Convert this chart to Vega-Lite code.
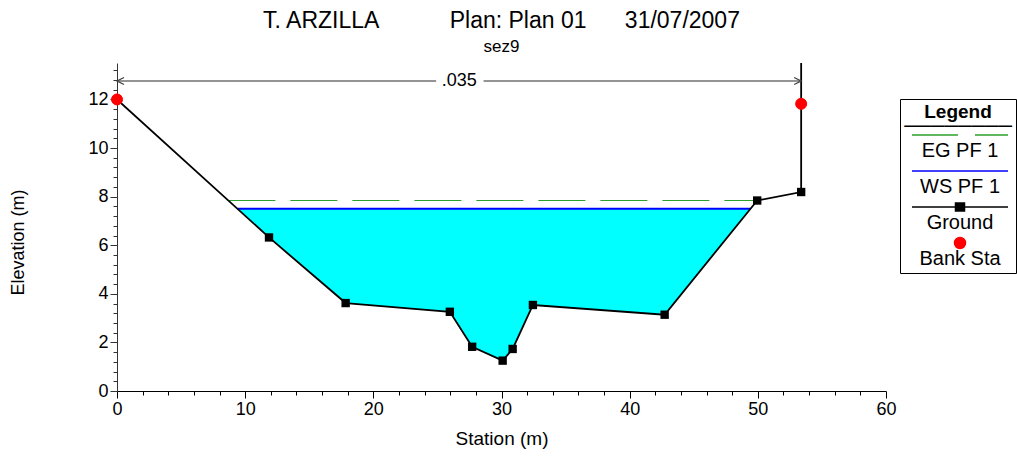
{
  "$schema": "https://vega.github.io/schema/vega-lite/v6.json",
  "width": 769,
  "height": 328,
  "autosize": {"type": "none"},
  "padding": {"left": 117, "top": 63, "right": 131, "bottom": 65},
  "background": "white",
  "config": {
    "view": {"stroke": null},
    "font": "Liberation Sans",
    "legend": {
      "orient": "none",
      "legendX": 783,
      "legendY": 36,
      "strokeColor": "#000000",
      "fillColor": "#ffffff",
      "padding": 4,
      "cornerRadius": 0,
      "titleFont": "Liberation Sans",
      "titleFontSize": 19,
      "titleFontWeight": "bold",
      "titleColor": "#000000",
      "titleAnchor": "middle",
      "titleAlign": "center",
      "titleLineHeight": 14,
      "titlePadding": -11,
      "labelFont": "Liberation Sans",
      "labelFontSize": 20,
      "labelColor": "#000000",
      "labelAlign": "center",
      "labelBaseline": "alphabetic",
      "labelOffset": -10,
      "labelLimit": 200,
      "symbolSize": 4,
      "symbolOffset": 46,
      "symbolStrokeWidth": 1.5,
      "rowPadding": -13
    }
  },
  "title": {
    "text": "T. ARZILLA\u00a0\u00a0\u00a0\u00a0\u00a0\u00a0\u00a0\u00a0\u00a0\u00a0\u00a0Plan: Plan 01\u00a0\u00a0\u00a0\u00a0\u00a0\u00a031/07/2007",
    "subtitle": "sez9",
    "anchor": "middle",
    "font": "Liberation Sans",
    "fontSize": 23,
    "fontWeight": "normal",
    "color": "#000000",
    "subtitleFont": "Liberation Sans",
    "subtitleFontSize": 17,
    "subtitleColor": "#000000",
    "subtitlePadding": 6,
    "offset": 6
  },
  "datasets": {
    "ground": [
      {"station": 0, "elev": 12.0},
      {"station": 11.86, "elev": 6.32},
      {"station": 17.84, "elev": 3.62},
      {"station": 25.97, "elev": 3.26},
      {"station": 27.71, "elev": 1.82},
      {"station": 30.09, "elev": 1.25},
      {"station": 30.87, "elev": 1.73},
      {"station": 32.45, "elev": 3.54},
      {"station": 42.73, "elev": 3.14},
      {"station": 49.95, "elev": 7.84},
      {"station": 53.38, "elev": 8.19},
      {"station": 53.38, "elev": 14.5}
    ],
    "water": [
      {"station": 9.4, "elev": 7.5, "ws": 7.5},
      {"station": 11.86, "elev": 6.32, "ws": 7.5},
      {"station": 17.84, "elev": 3.62, "ws": 7.5},
      {"station": 25.97, "elev": 3.26, "ws": 7.5},
      {"station": 27.71, "elev": 1.82, "ws": 7.5},
      {"station": 30.09, "elev": 1.25, "ws": 7.5},
      {"station": 30.87, "elev": 1.73, "ws": 7.5},
      {"station": 32.45, "elev": 3.54, "ws": 7.5},
      {"station": 42.73, "elev": 3.14, "ws": 7.5},
      {"station": 49.43, "elev": 7.5, "ws": 7.5}
    ],
    "ws": [
      {"station": 9.4, "elev": 7.5},
      {"station": 49.43, "elev": 7.5}
    ],
    "eg": [
      {"station": 8.69, "elev": 7.84},
      {"station": 49.95, "elev": 7.84}
    ],
    "nline": [
      {"station": 0, "station2": 24.9, "elev": 12.76},
      {"station": 28.6, "station2": 53.38, "elev": 12.76}
    ],
    "nvalue": [
      {"station": 26.7, "elev": 12.76, "n": ".035"}
    ],
    "bank": [
      {"station": 0, "elev": 12.0, "series": "Bank Sta"},
      {"station": 53.38, "elev": 11.82, "series": "Bank Sta"}
    ]
  },
  "encoding": {
    "x": {
      "field": "station",
      "type": "quantitative",
      "scale": {"domain": [0, 60], "nice": false, "zero": false},
      "axis": {
        "title": "Station (m)",
        "values": [0, 2, 4, 6, 8, 10, 12, 14, 16, 18, 20, 22, 24, 26, 28, 30, 32, 34, 36, 38, 40, 42, 44, 46, 48, 50, 52, 54, 56, 58, 60],
        "tickCount": 100,
        "labelExpr": "datum.value % 10 === 0 ? format(datum.value, 'd') : ''",
        "grid": false,
        "domainColor": "#000000",
        "tickColor": "#000000",
        "tickSize": {"condition": {"test": "datum.value % 10 === 0", "value": 7}, "value": 4},
        "labelFont": "Liberation Sans",
        "labelFontSize": 18,
        "labelColor": "#000000",
        "labelPadding": 2,
        "labelFlush": false,
        "labelOverlap": false,
        "titleFont": "Liberation Sans",
        "titleFontSize": 19,
        "titleFontWeight": "normal",
        "titleColor": "#000000",
        "titlePadding": 11
      }
    },
    "y": {
      "field": "elev",
      "type": "quantitative",
      "scale": {"domain": [0, 13.5], "nice": false, "zero": false},
      "axis": {
        "title": "Elevation (m)",
        "values": [0, 0.4, 0.8, 1.2, 1.6, 2, 2.4, 2.8, 3.2, 3.6, 4, 4.4, 4.8, 5.2, 5.6, 6, 6.4, 6.8, 7.2, 7.6, 8, 8.4, 8.8, 9.2, 9.6, 10, 10.4, 10.8, 11.2, 11.6, 12, 12.4, 12.8, 13.2],
        "tickCount": 100,
        "labelExpr": "datum.value % 2 === 0 ? format(datum.value, 'd') : ''",
        "grid": false,
        "domainColor": "#333333",
        "tickColor": "#333333",
        "tickSize": {"condition": {"test": "datum.value % 2 === 0", "value": 7}, "value": 4},
        "labelFont": "Liberation Sans",
        "labelFontSize": 18,
        "labelColor": "#000000",
        "labelPadding": 2,
        "labelFlush": false,
        "labelOverlap": false,
        "titleFont": "Liberation Sans",
        "titleFontSize": 18,
        "titleFontWeight": "normal",
        "titleColor": "#000000",
        "titleX": -99,
        "titleY": 179,
        "titleBaseline": "middle"
      }
    }
  },
  "layer": [
    {
      "data": {"name": "water"},
      "mark": {"type": "area", "color": "#00ffff", "opacity": 1},
      "encoding": {"y2": {"field": "ws"}}
    },
    {
      "data": {"name": "eg"},
      "mark": {"type": "line", "color": "#2ca02c", "strokeWidth": 1.2, "strokeDash": [47, 15]},
      "encoding": {}
    },
    {
      "data": {"name": "ws"},
      "mark": {"type": "line", "color": "#0000ff", "strokeWidth": 2},
      "encoding": {}
    },
    {
      "data": {"name": "ground"},
      "mark": {"type": "line", "color": "#000000", "strokeWidth": 1.8, "clip": true},
      "encoding": {}
    },
    {
      "data": {"name": "ground"},
      "mark": {"type": "point", "shape": "square", "filled": true, "color": "#000000", "size": 70, "opacity": 1, "clip": true},
      "encoding": {}
    },
    {
      "data": {"name": "nline"},
      "mark": {"type": "rule", "color": "#707070", "strokeWidth": 1.5},
      "encoding": {"x2": {"field": "station2"}}
    },
    {
      "data": {"values": [{"station": 0, "elev": 12.76}]},
      "mark": {"type": "point", "shape": "M2,-1L0,0L2,1", "size": 49, "filled": false, "color": "#404040", "strokeWidth": 1.3, "opacity": 1},
      "encoding": {}
    },
    {
      "data": {"values": [{"station": 53.38, "elev": 12.76}]},
      "mark": {"type": "point", "shape": "M-2,-1L0,0L-2,1", "size": 49, "filled": false, "color": "#404040", "strokeWidth": 1.3, "opacity": 1},
      "encoding": {}
    },
    {
      "data": {"name": "nvalue"},
      "mark": {"type": "text", "font": "Liberation Sans", "fontSize": 18, "color": "#000000", "align": "center", "baseline": "middle"},
      "encoding": {"text": {"field": "n"}}
    },
    {
      "data": {"name": "bank"},
      "mark": {"type": "point", "filled": true, "size": 4, "opacity": 1, "strokeWidth": 1},
      "encoding": {
        "fill": {
          "field": "series",
          "type": "nominal",
          "scale": {
            "domain": ["EG PF 1", "WS PF 1", "Ground", "Bank Sta"],
            "range": ["#2ca02c", "#0000ff", "#000000", "#ff0000"]
          },
          "legend": {"title": ["Legend", "────────"], "labelExpr": "['', datum.label]"}
        },
        "stroke": {
          "field": "series",
          "type": "nominal",
          "scale": {
            "domain": ["EG PF 1", "WS PF 1", "Ground", "Bank Sta"],
            "range": ["#2ca02c", "#0000ff", "#000000", "#ff0000"]
          },
          "legend": {"title": ["Legend", "────────"], "labelExpr": "['', datum.label]"}
        },
        "shape": {
          "field": "series",
          "type": "nominal",
          "scale": {
            "domain": ["EG PF 1", "WS PF 1", "Ground", "Bank Sta"],
            "range": [
              "M-48,0H-2M15,0H48",
              "M-48,0H48",
              "M-48,0H48M-4.5,-4H4.5V4H-4.5Z",
              "M-5.5,0A5.5,5.5,0,1,1,5.5,0A5.5,5.5,0,1,1,-5.5,0Z"
            ]
          },
          "legend": {"title": ["Legend", "────────"], "labelExpr": "['', datum.label]"}
        }
      }
    }
  ]
}
